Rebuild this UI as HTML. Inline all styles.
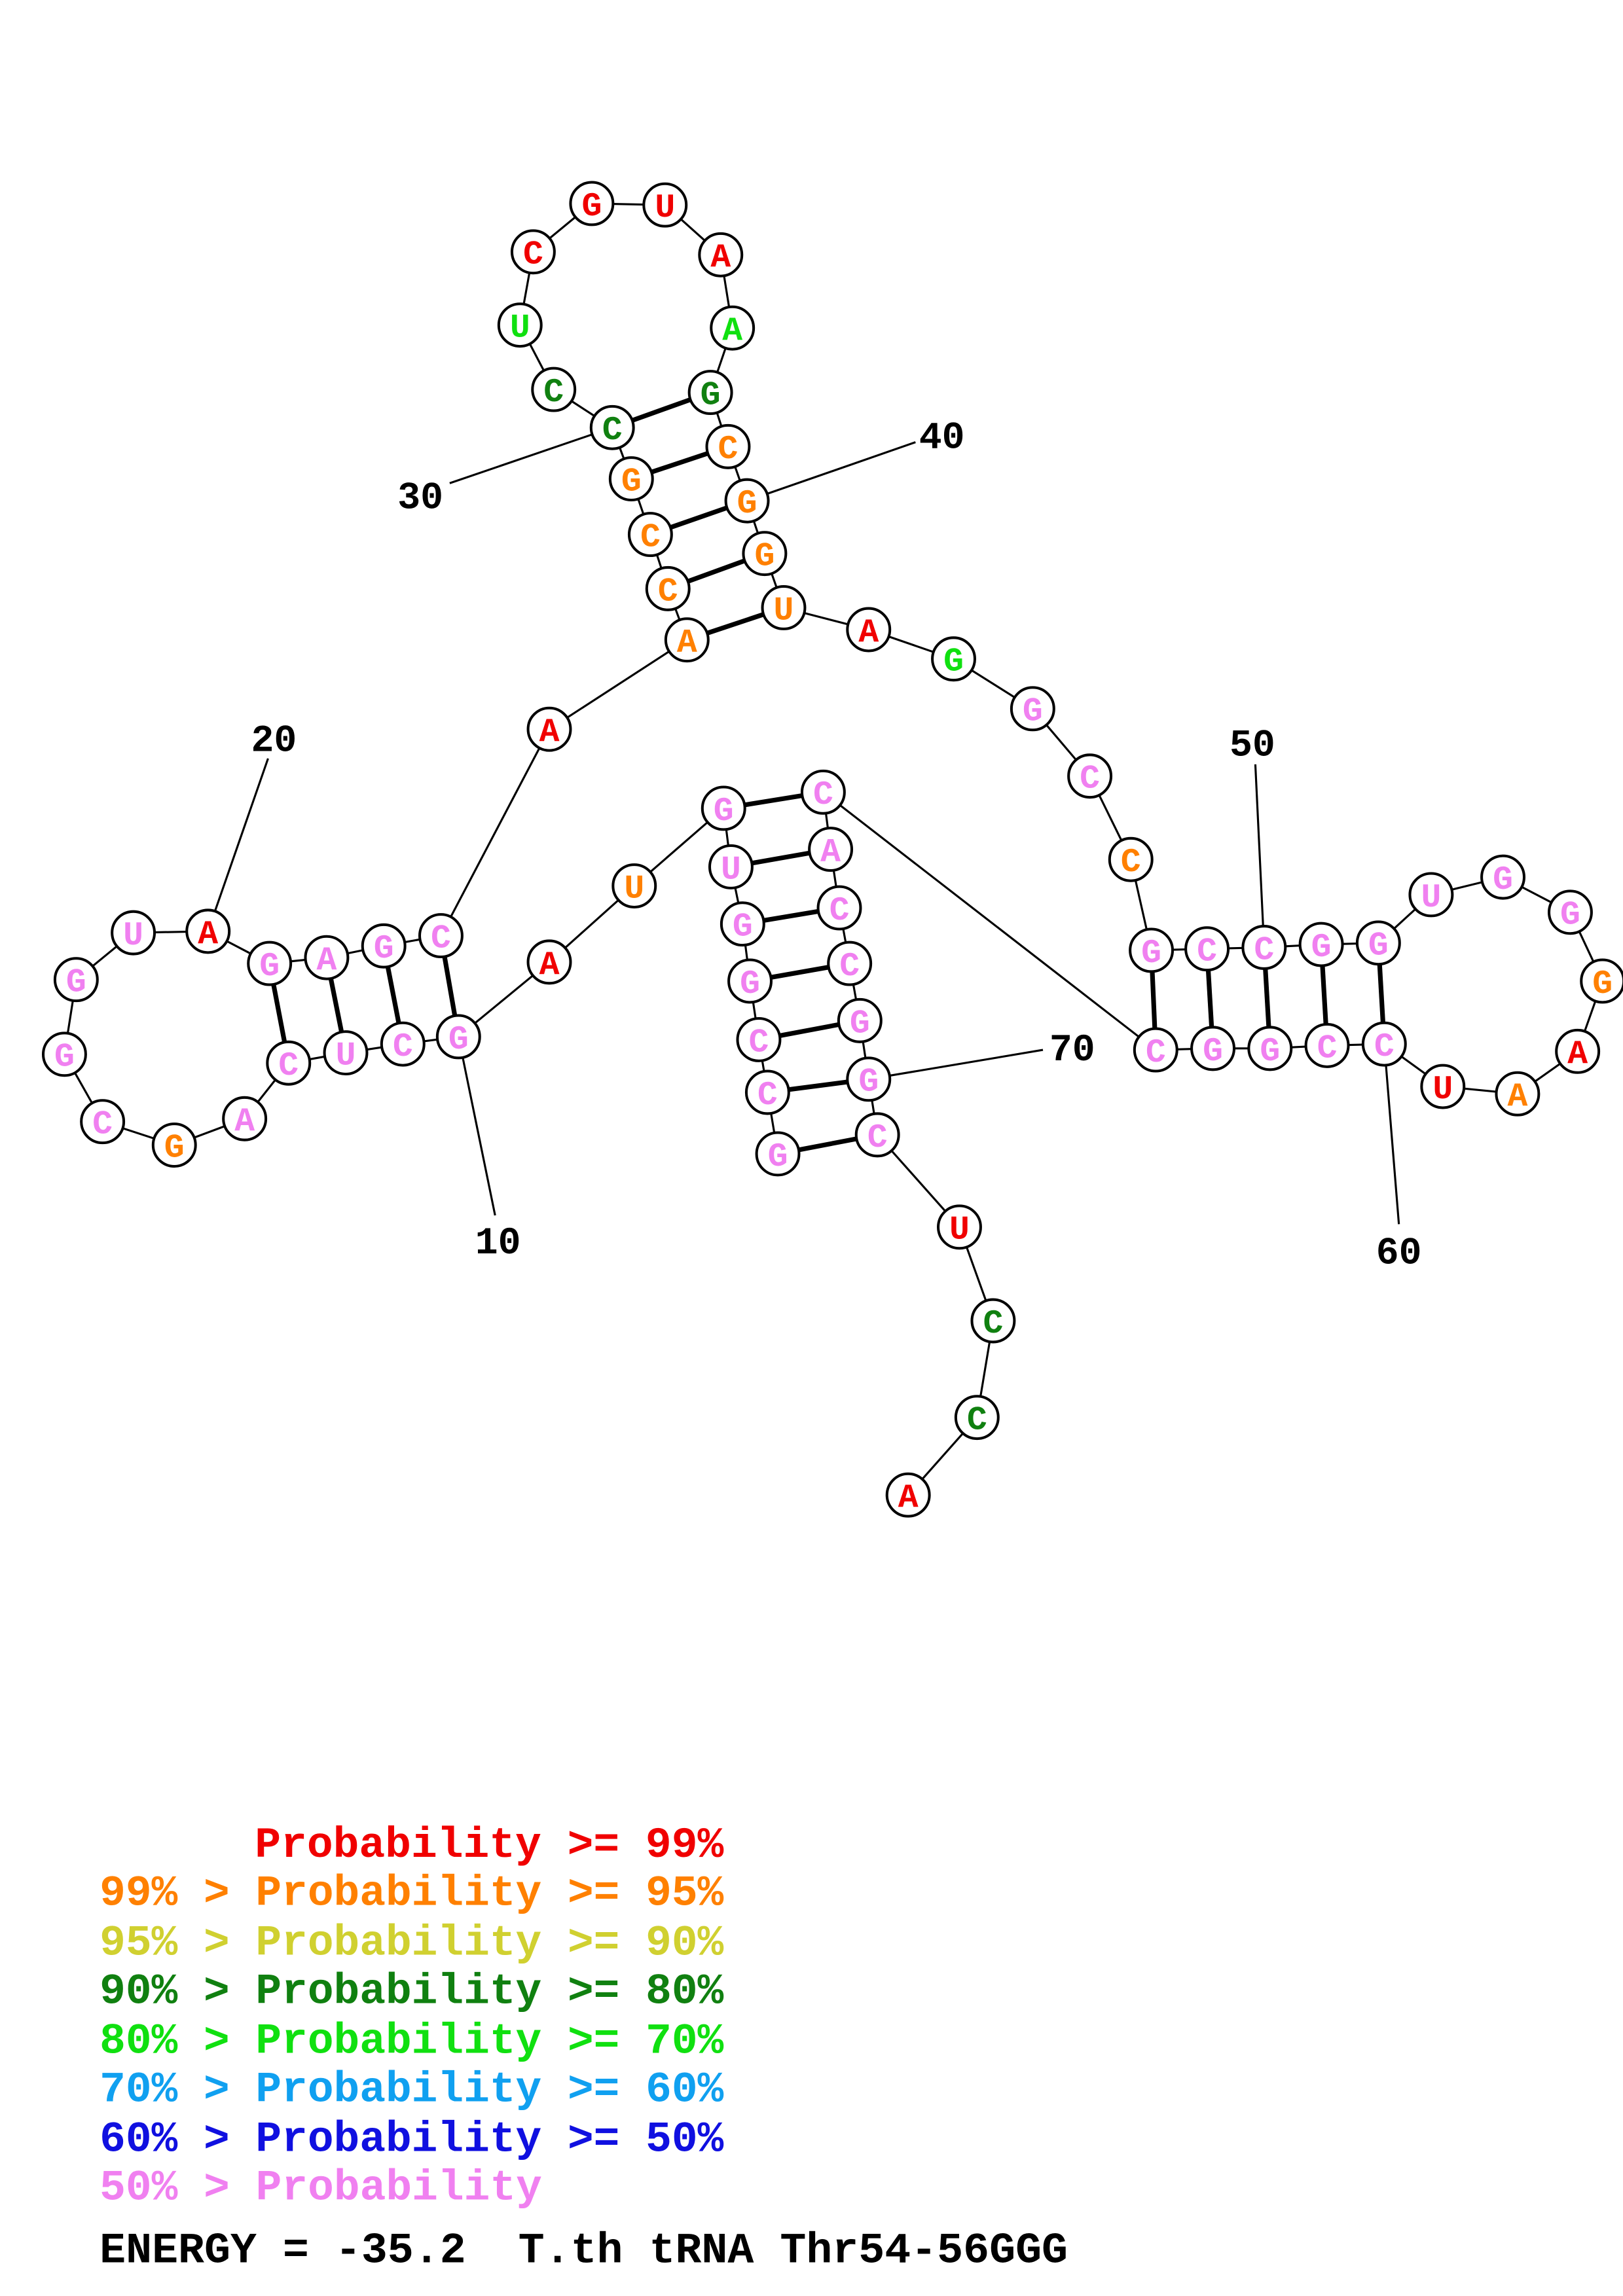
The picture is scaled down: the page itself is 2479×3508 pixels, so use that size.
<!DOCTYPE html>
<html><head><meta charset="utf-8"><style>html,body{margin:0;padding:0;background:#fff}svg{display:block}</style></head>
<body>
<svg xmlns="http://www.w3.org/2000/svg" width="2479" height="3508" viewBox="0 0 1108 1568" preserveAspectRatio="none">
<rect width="1108" height="1568" fill="#fff"/>
<g stroke="#000" stroke-width="1.4" fill="none">
<polyline points="531,788 524,746 518,710 512,670 507,631 499,592 494,552 433,605 375,657 313,708 275,713 236,719 197,726 167,764 119,782 70,766 44,720 52,669 91,637 142,636 184,658 223,654 262,646 301,639 375,498 469,437 456,402 444,365 431,327 418,292 378,266 355,222 364,172 404,139 454,140 492,174 500,224 485,268 497,305 510,342 522,378 535,415 593,430 651,450 705,484 744,530 772,587 786,649 824,648 863,647 902,645 941,644 977,611 1026,599 1072,623 1094,670 1077,718 1036,747 985,742 945,713 906,714 867,716 828,716 789,717 562,541 567,580 573,620 580,658 587,697 593,737 599,775 655,838 678,902 667,968 620,1021"/>
<line x1="313" y1="708" x2="338" y2="830"/>
<line x1="142" y1="636" x2="183" y2="518"/>
<line x1="418" y1="292" x2="307" y2="330"/>
<line x1="510" y1="342" x2="625" y2="302"/>
<line x1="863" y1="647" x2="857" y2="522"/>
<line x1="945" y1="713" x2="955" y2="836"/>
<line x1="593" y1="737" x2="712" y2="717"/>
</g>
<g stroke="#000" stroke-width="3.2">
<line x1="531" y1="788" x2="599" y2="775"/><line x1="524" y1="746" x2="593" y2="737"/><line x1="518" y1="710" x2="587" y2="697"/><line x1="512" y1="670" x2="580" y2="658"/><line x1="507" y1="631" x2="573" y2="620"/><line x1="499" y1="592" x2="567" y2="580"/><line x1="494" y1="552" x2="562" y2="541"/>
<line x1="313" y1="708" x2="301" y2="639"/><line x1="275" y1="713" x2="262" y2="646"/><line x1="236" y1="719" x2="223" y2="654"/><line x1="197" y1="726" x2="184" y2="658"/>
<line x1="469" y1="437" x2="535" y2="415"/><line x1="456" y1="402" x2="522" y2="378"/><line x1="444" y1="365" x2="510" y2="342"/><line x1="431" y1="327" x2="497" y2="305"/><line x1="418" y1="292" x2="485" y2="268"/>
<line x1="786" y1="649" x2="789" y2="717"/><line x1="824" y1="648" x2="828" y2="716"/><line x1="863" y1="647" x2="867" y2="716"/><line x1="902" y1="645" x2="906" y2="714"/><line x1="941" y1="644" x2="945" y2="713"/>
</g>
<g fill="#fff" stroke="#000" stroke-width="1.8">
<circle cx="531" cy="788" r="14.5"/><circle cx="524" cy="746" r="14.5"/><circle cx="518" cy="710" r="14.5"/><circle cx="512" cy="670" r="14.5"/><circle cx="507" cy="631" r="14.5"/><circle cx="499" cy="592" r="14.5"/><circle cx="494" cy="552" r="14.5"/><circle cx="433" cy="605" r="14.5"/><circle cx="375" cy="657" r="14.5"/><circle cx="313" cy="708" r="14.5"/><circle cx="275" cy="713" r="14.5"/><circle cx="236" cy="719" r="14.5"/><circle cx="197" cy="726" r="14.5"/><circle cx="167" cy="764" r="14.5"/><circle cx="119" cy="782" r="14.5"/><circle cx="70" cy="766" r="14.5"/><circle cx="44" cy="720" r="14.5"/><circle cx="52" cy="669" r="14.5"/><circle cx="91" cy="637" r="14.5"/><circle cx="142" cy="636" r="14.5"/><circle cx="184" cy="658" r="14.5"/><circle cx="223" cy="654" r="14.5"/><circle cx="262" cy="646" r="14.5"/><circle cx="301" cy="639" r="14.5"/><circle cx="375" cy="498" r="14.5"/><circle cx="469" cy="437" r="14.5"/><circle cx="456" cy="402" r="14.5"/><circle cx="444" cy="365" r="14.5"/><circle cx="431" cy="327" r="14.5"/><circle cx="418" cy="292" r="14.5"/><circle cx="378" cy="266" r="14.5"/><circle cx="355" cy="222" r="14.5"/><circle cx="364" cy="172" r="14.5"/><circle cx="404" cy="139" r="14.5"/><circle cx="454" cy="140" r="14.5"/><circle cx="492" cy="174" r="14.5"/><circle cx="500" cy="224" r="14.5"/><circle cx="485" cy="268" r="14.5"/><circle cx="497" cy="305" r="14.5"/><circle cx="510" cy="342" r="14.5"/><circle cx="522" cy="378" r="14.5"/><circle cx="535" cy="415" r="14.5"/><circle cx="593" cy="430" r="14.5"/><circle cx="651" cy="450" r="14.5"/><circle cx="705" cy="484" r="14.5"/><circle cx="744" cy="530" r="14.5"/><circle cx="772" cy="587" r="14.5"/><circle cx="786" cy="649" r="14.5"/><circle cx="824" cy="648" r="14.5"/><circle cx="863" cy="647" r="14.5"/><circle cx="902" cy="645" r="14.5"/><circle cx="941" cy="644" r="14.5"/><circle cx="977" cy="611" r="14.5"/><circle cx="1026" cy="599" r="14.5"/><circle cx="1072" cy="623" r="14.5"/><circle cx="1094" cy="670" r="14.5"/><circle cx="1077" cy="718" r="14.5"/><circle cx="1036" cy="747" r="14.5"/><circle cx="985" cy="742" r="14.5"/><circle cx="945" cy="713" r="14.5"/><circle cx="906" cy="714" r="14.5"/><circle cx="867" cy="716" r="14.5"/><circle cx="828" cy="716" r="14.5"/><circle cx="789" cy="717" r="14.5"/><circle cx="562" cy="541" r="14.5"/><circle cx="567" cy="580" r="14.5"/><circle cx="573" cy="620" r="14.5"/><circle cx="580" cy="658" r="14.5"/><circle cx="587" cy="697" r="14.5"/><circle cx="593" cy="737" r="14.5"/><circle cx="599" cy="775" r="14.5"/><circle cx="655" cy="838" r="14.5"/><circle cx="678" cy="902" r="14.5"/><circle cx="667" cy="968" r="14.5"/><circle cx="620" cy="1021" r="14.5"/>
</g>
<g font-family="'Liberation Mono', monospace" font-weight="bold" font-size="23" text-anchor="middle">
<g fill="#f080f0">
<text x="531" y="796">G</text><text x="524" y="754">C</text><text x="518" y="718">C</text><text x="512" y="678">G</text><text x="507" y="639">G</text><text x="499" y="600">U</text><text x="494" y="560">G</text>
<text x="313" y="716">G</text><text x="275" y="721">C</text><text x="236" y="727">U</text><text x="197" y="734">C</text><text x="167" y="772">A</text><text x="70" y="774">C</text><text x="44" y="728">G</text><text x="52" y="677">G</text><text x="91" y="645">U</text><text x="184" y="666">G</text><text x="223" y="662">A</text><text x="262" y="654">G</text><text x="301" y="647">C</text>
<text x="705" y="492">G</text><text x="744" y="538">C</text><text x="786" y="657">G</text><text x="824" y="656">C</text><text x="863" y="655">C</text><text x="902" y="653">G</text><text x="941" y="652">G</text><text x="977" y="619">U</text><text x="1026" y="607">G</text><text x="1072" y="631">G</text>
<text x="945" y="721">C</text><text x="906" y="722">C</text><text x="867" y="724">G</text><text x="828" y="724">G</text><text x="789" y="725">C</text>
<text x="562" y="549">C</text><text x="567" y="588">A</text><text x="573" y="628">C</text><text x="580" y="666">C</text><text x="587" y="705">G</text><text x="593" y="745">G</text><text x="599" y="783">C</text>
</g>
<g fill="#ff8000">
<text x="433" y="613">U</text><text x="119" y="790">G</text><text x="469" y="445">A</text><text x="456" y="410">C</text><text x="444" y="373">C</text><text x="431" y="335">G</text><text x="497" y="313">C</text><text x="510" y="350">G</text><text x="522" y="386">G</text><text x="535" y="423">U</text><text x="772" y="595">C</text><text x="1094" y="678">G</text><text x="1036" y="755">A</text>
</g>
<g fill="#f00000">
<text x="375" y="665">A</text><text x="142" y="644">A</text><text x="375" y="506">A</text><text x="364" y="180">C</text><text x="404" y="147">G</text><text x="454" y="148">U</text><text x="492" y="182">A</text><text x="593" y="438">A</text><text x="1077" y="726">A</text><text x="985" y="750">U</text><text x="655" y="846">U</text><text x="620" y="1029">A</text>
</g>
<g fill="#108010">
<text x="418" y="300">C</text><text x="378" y="274">C</text><text x="485" y="276">G</text><text x="678" y="910">C</text><text x="667" y="976">C</text>
</g>
<g fill="#10e010">
<text x="355" y="230">U</text><text x="500" y="232">A</text><text x="651" y="458">G</text>
</g>
</g>
<g font-family="'Liberation Mono', monospace" font-weight="bold" font-size="26" fill="#000" text-anchor="middle">
<text x="340" y="856">10</text><text x="187" y="513">20</text><text x="287" y="347">30</text><text x="643" y="306">40</text><text x="855" y="516">50</text><text x="955" y="863">60</text><text x="732" y="724">70</text>
</g>
<g font-family="'Liberation Mono', monospace" font-weight="bold" font-size="29.5">
<text x="174" y="1268" fill="#f00000" textLength="320" lengthAdjust="spacingAndGlyphs">Probability &gt;= 99%</text>
<text x="68" y="1301" fill="#ff8000" textLength="426" lengthAdjust="spacingAndGlyphs">99% &gt; Probability &gt;= 95%</text>
<text x="68" y="1335" fill="#d0d030" textLength="426" lengthAdjust="spacingAndGlyphs">95% &gt; Probability &gt;= 90%</text>
<text x="68" y="1368" fill="#108010" textLength="426" lengthAdjust="spacingAndGlyphs">90% &gt; Probability &gt;= 80%</text>
<text x="68" y="1402" fill="#10e010" textLength="426" lengthAdjust="spacingAndGlyphs">80% &gt; Probability &gt;= 70%</text>
<text x="68" y="1435" fill="#10a0f0" textLength="426" lengthAdjust="spacingAndGlyphs">70% &gt; Probability &gt;= 60%</text>
<text x="68" y="1469" fill="#1010e0" textLength="426" lengthAdjust="spacingAndGlyphs">60% &gt; Probability &gt;= 50%</text>
<text x="68" y="1502" fill="#f080f0" textLength="302" lengthAdjust="spacingAndGlyphs">50% &gt; Probability</text>
<text x="68" y="1545" fill="#000" textLength="661" lengthAdjust="spacingAndGlyphs">ENERGY = -35.2 &#160;T.th tRNA Thr54-56GGG</text>
</g>
</svg>
</body></html>
